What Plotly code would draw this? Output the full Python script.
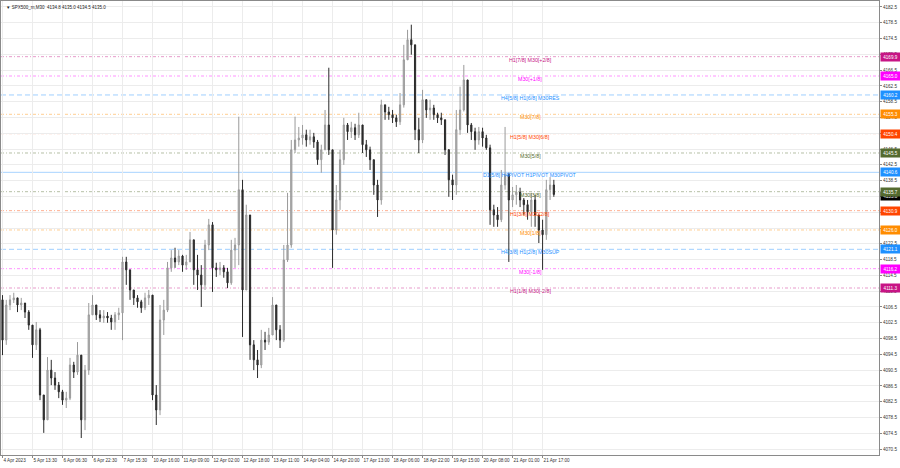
import plotly.graph_objects as go

# ---------------- data ----------------
first_open = 4108.3
closes = [4098.1, 4107.0, 4108.3, 4108.8, 4107.0, 4107.5, 4105.2, 4101.9, 4096.9, 4100.7,
          4084.2, 4077.9, 4090.5, 4088.5, 4086.7, 4085.0, 4082.9, 4083.4, 4091.8, 4090.0,
          4094.3, 4077.9, 4090.5, 4104.5, 4107.0, 4104.5, 4103.7, 4104.2, 4103.7, 4102.7,
          4104.5, 4105.0, 4117.9, 4115.9, 4110.8, 4108.8, 4107.8, 4106.3, 4108.8, 4109.5,
          4084.2, 4080.4, 4103.2, 4105.7, 4116.4, 4118.9, 4117.9, 4119.4, 4117.1, 4117.9,
          4123.5, 4115.9, 4114.6, 4112.1, 4122.2, 4127.3, 4116.4, 4115.9, 4116.4, 4115.4,
          4112.6, 4120.9, 4122.2, 4136.2, 4110.8, 4129.8, 4096.9, 4093.1, 4091.8, 4098.1,
          4097.6, 4099.4, 4107.0, 4100.7, 4098.1, 4118.4, 4122.2, 4146.3, 4148.8, 4149.3,
          4150.1, 4148.8, 4149.6, 4148.3, 4143.8, 4146.3, 4152.6, 4146.3, 4126.0, 4133.6,
          4143.8, 4152.6, 4150.9, 4151.9, 4150.1, 4152.6, 4147.6, 4146.3, 4143.8, 4137.4,
          4133.6, 4157.7, 4155.9, 4155.2, 4154.4, 4153.4, 4157.7, 4169.1, 4174.2, 4172.9,
          4151.4, 4148.8, 4159.0, 4156.4, 4156.9, 4155.2, 4154.4, 4153.9, 4146.3, 4138.7,
          4137.4, 4151.4, 4156.4, 4164.0, 4152.6, 4150.9, 4148.8, 4150.9, 4149.3, 4146.8,
          4131.1, 4129.8, 4128.6, 4137.4, 4140.0, 4133.6, 4134.9, 4135.6, 4133.6, 4132.4,
          4130.6, 4133.6, 4129.8, 4126.0, 4124.8, 4136.2, 4137.4, 4135.0]
highs = [4109.5, 4108.3, 4109.5, 4110.1, 4108.8, 4108.8, 4107.5, 4105.7, 4101.9, 4102.7,
         4101.2, 4084.2, 4093.8, 4093.1, 4090.0, 4087.5, 4085.5, 4085.0, 4093.6, 4092.6,
         4097.6, 4094.3, 4091.8, 4107.5, 4109.5, 4107.0, 4105.7, 4105.7, 4105.2, 4104.5,
         4105.2, 4106.3, 4119.2, 4119.2, 4115.9, 4110.8, 4109.5, 4108.3, 4110.1, 4110.8,
         4109.5, 4086.7, 4107.0, 4108.3, 4117.9, 4120.9, 4121.5, 4120.9, 4119.7, 4119.7,
         4125.5, 4123.5, 4119.7, 4117.1, 4123.5, 4128.8, 4128.0, 4117.7, 4117.9, 4117.1,
         4116.4, 4123.5, 4124.0, 4154.7, 4138.7, 4132.4, 4129.8, 4098.1, 4095.6, 4100.7,
         4100.2, 4101.2, 4109.0, 4107.0, 4101.9, 4122.2, 4135.4, 4148.8, 4154.7, 4152.1,
         4152.6, 4151.4, 4151.4, 4150.6, 4148.8, 4147.6, 4156.4, 4167.1, 4146.3, 4137.4,
         4146.3, 4154.4, 4153.1, 4153.4, 4152.9, 4155.7, 4152.6, 4148.8, 4147.1, 4143.8,
         4138.7, 4159.0, 4157.7, 4157.2, 4156.4, 4155.2, 4160.7, 4172.9, 4176.7, 4178.0,
         4172.9, 4154.4, 4161.5, 4158.2, 4159.0, 4157.7, 4155.7, 4155.7, 4154.0, 4146.5,
         4140.0, 4156.4, 4162.3, 4167.8, 4164.0, 4153.1, 4151.9, 4152.1, 4151.9, 4150.1,
         4147.6, 4132.4, 4131.8, 4141.2, 4152.1, 4140.5, 4136.9, 4137.4, 4136.7, 4134.1,
         4133.6, 4135.4, 4134.9, 4129.8, 4128.6, 4138.7, 4139.4, 4138.7]
lows = [4094.3, 4096.9, 4105.7, 4107.5, 4105.2, 4105.7, 4103.7, 4100.7, 4093.6, 4095.6,
        4082.9, 4074.6, 4077.9, 4086.7, 4085.5, 4083.4, 4081.7, 4080.9, 4082.9, 4088.5,
        4089.3, 4073.3, 4075.3, 4089.3, 4104.5, 4103.2, 4102.7, 4102.5, 4102.5, 4100.7,
        4100.7, 4103.2, 4098.1, 4112.1, 4108.3, 4107.0, 4106.3, 4105.0, 4105.7, 4107.0,
        4082.9, 4076.6, 4079.1, 4099.4, 4105.2, 4115.4, 4116.4, 4117.1, 4115.4, 4115.9,
        4117.9, 4112.1, 4110.8, 4106.5, 4110.8, 4120.9, 4110.3, 4114.1, 4114.6, 4113.9,
        4111.3, 4112.1, 4116.4, 4117.1, 4098.9, 4110.8, 4093.1, 4090.5, 4088.5, 4091.0,
        4095.6, 4096.9, 4099.4, 4098.1, 4096.1, 4097.6, 4117.9, 4121.5, 4145.5, 4147.1,
        4147.6, 4147.1, 4147.6, 4146.8, 4142.5, 4140.5, 4146.3, 4145.0, 4116.4, 4124.8,
        4131.1, 4142.5, 4148.8, 4149.3, 4148.8, 4149.3, 4145.5, 4144.5, 4141.2, 4134.9,
        4129.3, 4132.4, 4153.9, 4153.9, 4153.1, 4152.1, 4152.6, 4157.0, 4169.1, 4170.4,
        4148.8, 4145.5, 4148.0, 4154.4, 4153.9, 4153.9, 4153.1, 4152.6, 4145.0, 4134.4,
        4133.6, 4134.9, 4150.1, 4156.0, 4150.6, 4148.8, 4146.3, 4147.6, 4147.1, 4146.3,
        4127.3, 4126.8, 4126.8, 4128.0, 4136.2, 4117.9, 4131.8, 4132.4, 4131.8, 4129.8,
        4128.6, 4126.8, 4126.8, 4122.7, 4115.9, 4123.5, 4133.6, 4134.4]

x_tick_labels = ["4 Apr 2023", "5 Apr 13:30", "6 Apr 06:30", "6 Apr 22:30", "7 Apr 15:30",
                 "10 Apr 16:00", "11 Apr 09:00", "12 Apr 02:00", "12 Apr 18:00", "13 Apr 11:00",
                 "14 Apr 04:00", "14 Apr 20:00", "17 Apr 13:00", "18 Apr 06:00", "18 Apr 22:00",
                 "19 Apr 15:00", "20 Apr 08:00", "21 Apr 01:00", "21 Apr 17:00"]
bars_per_label = 8

level_prices = [4169.9, 4165.0, 4160.2, 4155.3, 4150.4, 4145.5, 4140.6,
                4135.7, 4130.9, 4126.0, 4121.1, 4116.2, 4111.3]
level_names = ["H1[7/8] M30[+2/8]", "M30[+1/8]", "H4[5/8] H1[6/8] M30RES", "M30[7/8]",
               "H1[5/8] M30[6/8]", "M30[5/8]", "D1[5/8] H4PIVOT H1PIVOT M30PIVOT",
               "M30[3/8]", "H1[3/8] M30[2/8]", "M30[1/8]", "H4[3/8] H1[2/8] M30SUP",
               "M30[-1/8]", "H1[1/8] M30[-2/8]"]
level_colors = ["#C71585", "#FF00FF", "#1E90FF", "#FF8C00", "#FF4500", "#556B2F", "#1E90FF",
                "#556B2F", "#FF4500", "#FF8C00", "#1E90FF", "#FF00FF", "#C71585"]
level_dashes = ["3px,2px,1px,2px", "3px,2px,1px,2px", "5px,3px", "3px,2px,1px,2px",
                "3px,2px,1px,2px", "3px,2px,1px,2px", "solid", "3px,2px,1px,2px",
                "3px,2px,1px,2px", "3px,2px,1px,2px", "5px,3px", "3px,2px,1px,2px",
                "3px,2px,1px,2px"]

last_price = 4135.0
title_text = "SPX500_m,M30  4134.8 4135.0 4134.5 4135.0"

# ---------------- figure ----------------
n = len(closes)
xs = list(range(n))
opens = [first_open] + closes[:-1]

FONT = "Liberation Sans"
fig = go.Figure()
fig.add_trace(go.Candlestick(
    x=xs, open=opens, high=highs, low=lows, close=closes,
    increasing=dict(line=dict(color="#9a9a9a", width=1), fillcolor="#b5b5b5"),
    decreasing=dict(line=dict(color="#2a2a2a", width=1), fillcolor="#2a2a2a"),
    whiskerwidth=0, showlegend=False, hoverinfo="skip"))

label_x = 140.7
for p, name, col, dash in zip(level_prices, level_names, level_colors, level_dashes):
    fig.add_shape(type="line", xref="paper", x0=0, x1=1, yref="y", y0=p, y1=p,
                  line=dict(color=col, width=1, dash=dash),
                  opacity=0.42 if dash != "solid" else 0.38, layer="below")
    fig.add_annotation(x=label_x, y=p, xref="x", yref="y", text=name, showarrow=False,
                       xanchor="center", yanchor="middle", yshift=-3,
                       font=dict(family=FONT, size=5.3, color=col))

# current price box (under the level box)
fig.add_annotation(x=1, xref="paper", y=last_price, yref="y", text=f"{last_price:.1f}",
                   showarrow=False, xanchor="left", yanchor="middle", xshift=1, yshift=-2,
                   bgcolor="#000000", width=19, height=8, borderpad=0,
                   font=dict(family=FONT, size=4.6, color="white"))
for p, col in zip(level_prices, level_colors):
    fig.add_annotation(x=1, xref="paper", y=p, yref="y", text=f"{p:.1f}",
                       showarrow=False, xanchor="left", yanchor="middle", xshift=1,
                       bgcolor=col, width=19, height=8, borderpad=0,
                       font=dict(family=FONT, size=4.6, color="white"))

fig.add_annotation(x=0, xref="paper", y=1, yref="paper", text="▼ " + title_text,
                   showarrow=False, xanchor="left", yanchor="top", xshift=3, yshift=-2,
                   font=dict(family=FONT, size=4.5, color="#222"))

fig.update_layout(
    width=900, height=468,
    margin=dict(l=1, r=21, t=1, b=13),
    paper_bgcolor="white", plot_bgcolor="white",
    boxgap=0.55,
    font=dict(family=FONT, size=4.5, color="#333"),
    xaxis=dict(range=[-0.4, 233.7], tickmode="array",
               tickvals=[i * bars_per_label for i in range(len(x_tick_labels))],
               ticktext=x_tick_labels, ticklabelposition="outside right", tickangle=0,
               ticks="outside", ticklen=2, tickcolor="#888",
               showgrid=True, gridcolor="#ececec", gridwidth=1,
               showline=True, linecolor="#8a8a8a", linewidth=1, mirror=True,
               rangeslider=dict(visible=False), zeroline=False, automargin=False,
               tickfont=dict(family=FONT, size=4.6, color="#333")),
    yaxis=dict(range=[4069.0, 4184.0], side="right", tick0=4070.5, dtick=4,
               tickformat=".1f", ticks="outside", ticklen=2, tickcolor="#888",
               showgrid=True, gridcolor="#ececec", gridwidth=1,
               showline=True, linecolor="#8a8a8a", linewidth=1, mirror=True,
               zeroline=False, automargin=False,
               tickfont=dict(family=FONT, size=4.6, color="#333")),
)

fig.write_html("out.html", config={"displayModeBar": False},
               post_script="document.body.style.margin='0px';")
